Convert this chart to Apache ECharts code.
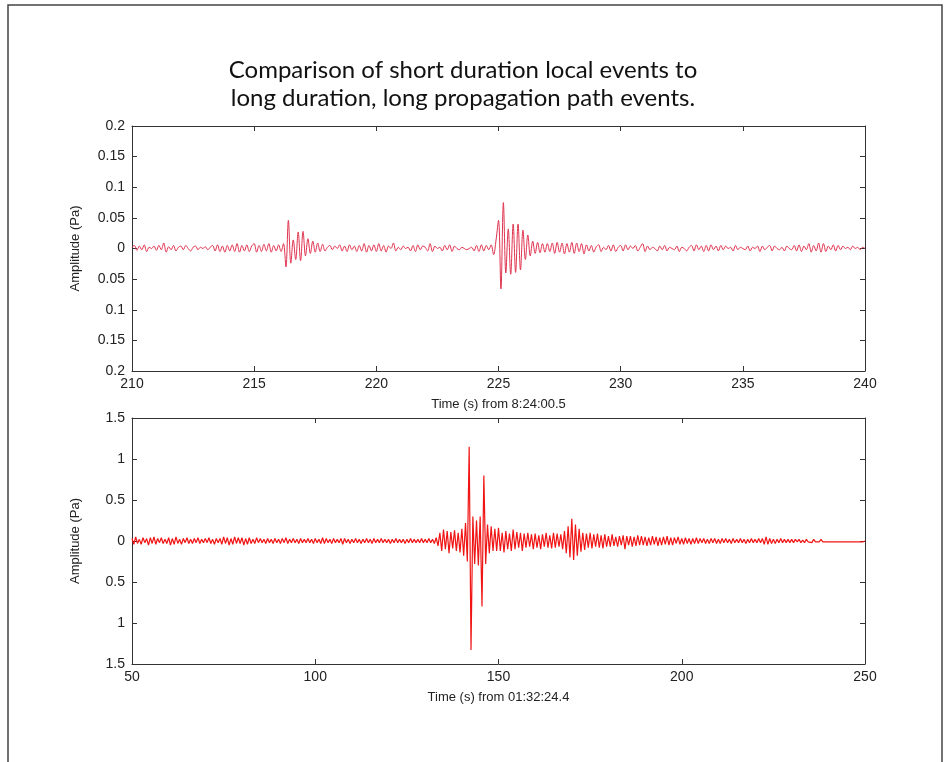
<!DOCTYPE html>
<html>
<head>
<meta charset="utf-8">
<script src="https://cdn.jsdelivr.net/npm/echarts@6/dist/echarts.min.js"></script>
<style>
  html, body { margin: 0; padding: 0; background: #fff; }
  #chart { width: 949px; height: 762px; }
</style>
</head>
<body>
<div id="chart"></div>
<script>
// top trace: 210 s .. 240 s, one sample every 0.1 s
var topStart = 210, topStep = 0.1;
var topValues = [
  0.002, 0.005, -0.003, 0.004, -0.002, 0.006, -0.005, 0.002, 0.000, 0.004,
  -0.003, 0.005, -0.002, 0.009, -0.006, 0.003, -0.002, 0.005, -0.004, 0.002,
  0.004, -0.002, 0.005, 0.000, -0.004, 0.002, 0.004, -0.002, 0.002, 0.000,
  0.003, -0.002, 0.002, 0.005, -0.004, 0.006, -0.005, 0.004, -0.006, 0.005,
  -0.004, 0.006, -0.005, 0.008, -0.006, 0.005, -0.004, 0.006, -0.005, 0.004,
  0.008, -0.006, 0.005, -0.005, 0.007, -0.004, 0.008, -0.006, 0.005, -0.004,
  0.006, -0.005, 0.008, -0.030, 0.046, -0.024, 0.014, -0.018, 0.027, -0.020,
  0.028, -0.012, 0.016, -0.008, 0.012, -0.006, 0.009, -0.005, 0.007, -0.004,
  0.002, 0.005, -0.002, 0.004, 0.000, 0.006, -0.004, 0.004, -0.005, 0.006,
  -0.002, 0.004, -0.005, 0.005, -0.004, 0.008, -0.006, 0.005, -0.004, 0.006,
  -0.005, 0.008, -0.004, 0.005, -0.006, 0.004, 0.000, 0.009, -0.004, 0.002,
  -0.002, 0.004, 0.000, 0.002, -0.004, 0.005, -0.005, 0.006, -0.002, 0.004,
  0.002, -0.004, 0.008, -0.005, 0.004, 0.000, 0.002, -0.004, 0.005, -0.002,
  0.006, -0.005, 0.004, 0.000, -0.002, 0.002, 0.000, -0.002, 0.000, 0.002,
  -0.004, 0.005, -0.005, 0.006, -0.004, 0.005, -0.002, 0.006, -0.010, 0.014,
  0.046, -0.066, 0.075, -0.040, 0.032, -0.042, 0.040, -0.039, 0.040, -0.035,
  0.030, -0.018, 0.022, -0.012, 0.012, -0.008, 0.010, -0.007, 0.008, -0.006,
  0.008, -0.005, 0.009, -0.008, 0.010, -0.006, 0.009, -0.009, 0.008, -0.006,
  0.010, -0.008, 0.009, -0.005, 0.008, -0.009, 0.006, -0.004, 0.005, -0.006,
  0.003, 0.006, -0.005, 0.002, -0.002, 0.005, -0.004, 0.006, -0.005, 0.002,
  0.005, -0.004, 0.006, -0.002, 0.004, 0.000, 0.005, -0.004, 0.002, 0.008,
  -0.005, 0.004, -0.002, 0.002, 0.000, -0.004, 0.004, -0.002, 0.005, -0.004,
  0.002, 0.000, -0.002, 0.004, -0.005, 0.002, 0.000, -0.004, 0.002, 0.005,
  -0.004, 0.006, -0.002, 0.004, -0.005, 0.005, -0.004, 0.006, -0.002, 0.004,
  -0.004, 0.005, -0.002, 0.004, 0.000, 0.002, -0.004, 0.005, -0.002, 0.002,
  0.000, -0.002, 0.004, -0.004, 0.002, 0.000, 0.004, -0.005, 0.004, -0.002,
  0.002, 0.005, -0.004, 0.004, 0.000, -0.002, 0.002, -0.004, 0.004, 0.000,
  -0.002, 0.005, -0.004, 0.006, -0.005, 0.004, -0.002, 0.008, -0.006, 0.005,
  -0.004, 0.009, -0.006, 0.008, -0.005, 0.004, -0.002, 0.006, -0.004, 0.005,
  -0.002, 0.004, 0.000, 0.002, -0.002, 0.004, 0.000, 0.002, -0.002, 0.002,
  0.000
];

// bottom trace: 50 s .. 250 s, one sample every 0.5 s
var botStart = 50, botStep = 0.5;
var botValues = [
  0.03, -0.04, 0.05, -0.03, 0.02, -0.04, 0.04, -0.02, 0.03, -0.05, 0.04, -0.03, 0.05, -0.04, 0.03, -0.02, 0.04, -0.03, 0.02, -0.03,
  0.04, -0.05, 0.03, -0.04, 0.05, -0.03, 0.02, -0.04, 0.03, -0.02, 0.04, -0.03, 0.02, -0.03, 0.03, -0.02, 0.04, -0.03, 0.02, -0.02,
  0.03, -0.02, 0.04, -0.03, 0.02, -0.04, 0.03, -0.02, 0.03, -0.04, 0.05, -0.03, 0.04, -0.05, 0.03, -0.04, 0.05, -0.03, 0.04, -0.03,
  0.04, -0.05, 0.03, -0.04, 0.04, -0.03, 0.02, -0.03, 0.04, -0.02, 0.03, -0.02, 0.02, -0.03, 0.03, -0.02, 0.02, -0.03, 0.03, -0.02,
  0.02, -0.03, 0.03, -0.02, 0.04, -0.03, 0.02, -0.02, 0.03, -0.02, 0.02, -0.03, 0.03, -0.02, 0.02, -0.02, 0.03, -0.02, 0.02, -0.03,
  0.03, -0.02, 0.02, -0.03, 0.04, -0.03, 0.03, -0.02, 0.02, -0.03, 0.03, -0.02, 0.02, -0.02, 0.03, -0.04, 0.03, -0.02, 0.02, -0.03,
  0.02, -0.02, 0.03, -0.02, 0.02, -0.03, 0.02, -0.02, 0.03, -0.02, 0.02, -0.03, 0.03, -0.02, 0.02, -0.02, 0.03, -0.02, 0.02, -0.02,
  0.02, -0.03, 0.02, -0.02, 0.03, -0.02, 0.02, -0.02, 0.02, -0.03, 0.02, -0.02, 0.03, -0.02, 0.02, -0.02, 0.02, -0.02, 0.03, -0.02,
  0.02, -0.02, 0.03, -0.02, 0.02, -0.03, 0.04, -0.06, 0.10, -0.12, 0.14, -0.10, 0.12, -0.15, 0.11, -0.09, 0.13, -0.12, 0.10, -0.14,
  0.15, -0.18, 0.22, -0.25, 1.15, -1.33, 0.30, -0.28, 0.25, -0.30, 0.30, -0.80, 0.80, -0.28, 0.20, -0.15, 0.18, -0.12, 0.15, -0.12,
  0.16, -0.12, 0.10, -0.14, 0.12, -0.10, 0.09, -0.12, 0.14, -0.10, 0.11, -0.08, 0.10, -0.12, 0.09, -0.08, 0.10, -0.07, 0.08, -0.10,
  0.09, -0.08, 0.07, -0.10, 0.08, -0.07, 0.10, -0.08, 0.07, -0.09, 0.10, -0.08, 0.09, -0.07, 0.08, -0.10, 0.12, -0.15, 0.18, -0.20,
  0.27, -0.23, 0.20, -0.18, 0.15, -0.13, 0.10, -0.11, 0.09, -0.08, 0.10, -0.09, 0.08, -0.07, 0.09, -0.08, 0.07, -0.09, 0.08, -0.07,
  0.06, -0.07, 0.08, -0.06, 0.05, -0.07, 0.06, -0.05, 0.07, -0.10, 0.06, -0.05, 0.06, -0.07, 0.05, -0.06, 0.07, -0.05, 0.06, -0.05,
  0.05, -0.06, 0.04, -0.05, 0.06, -0.04, 0.05, -0.06, 0.04, -0.05, 0.05, -0.04, 0.06, -0.05, 0.04, -0.05, 0.04, -0.03, 0.05, -0.04,
  0.03, -0.04, 0.04, -0.03, 0.03, -0.04, 0.03, -0.03, 0.04, -0.03, 0.03, -0.02, 0.03, -0.03, 0.02, -0.03, 0.03, -0.02, 0.03, -0.03,
  0.02, -0.03, 0.03, -0.02, 0.03, -0.02, 0.02, -0.03, 0.03, -0.02, 0.02, -0.02, 0.03, -0.02, 0.02, -0.03, 0.02, -0.02, 0.03, -0.02,
  0.02, -0.02, 0.03, -0.02, 0.03, -0.04, 0.05, -0.04, 0.03, -0.03, 0.02, -0.03, 0.02, -0.02, 0.03, -0.02, 0.02, -0.02, 0.02, -0.02,
  0.02, -0.02, 0.02, -0.01, 0.02, -0.02, 0.01, -0.02, 0.02, -0.01, 0.01, -0.02, 0.02, -0.01, 0.01, -0.01, 0.02, -0.01, 0.01, -0.01,
  0.01, -0.01, 0.01, -0.01, 0.01, -0.01, 0.01, -0.01, 0.01, -0.01, 0.01, -0.01, 0.01, -0.01, 0.01, -0.01, 0.01, -0.01, 0.01, -0.01,
  0.00
];

var titleLines = ['Comparison of short duration local events to', 'long duration, long propagation path events.'];
var topXName = 'Time (s) from 8:24:00.5';
var botXName = 'Time (s) from 01:32:24.4';
var yName = 'Amplitude (Pa)';

function pairs(start, step, vals) {
  return vals.map(function (v, i) { return [+(start + i * step).toFixed(2), v]; });
}

var font = 'Liberation Sans, Arial, sans-serif';
var axisCol = '#333';

// matlab drops the minus sign in these labels, keep it that way
function absLabel(v) { return String(Math.abs(+(+v).toFixed(2))); }

function xAxes(grid, min, max, interval, name) {
  return [{
    type: 'value', gridIndex: grid, min: min, max: max, interval: interval,
    name: name, nameLocation: 'middle', nameGap: 27,
    nameTextStyle: { fontFamily: font, fontSize: 13, color: '#222' },
    axisLine: { onZero: false, lineStyle: { color: axisCol, width: 1 } },
    axisTick: { inside: true, length: 5, lineStyle: { color: axisCol } },
    axisLabel: { fontFamily: font, fontSize: 14, color: '#222', margin: 6 },
    splitLine: { show: false }
  }, {
    type: 'value', gridIndex: grid, min: min, max: max, interval: interval, position: 'top',
    axisLine: { onZero: false, lineStyle: { color: axisCol, width: 1 } },
    axisTick: { inside: true, length: 5, lineStyle: { color: axisCol } },
    axisLabel: { show: false }, splitLine: { show: false }
  }];
}

function yAxes(grid, lim, interval) {
  return [{
    type: 'value', gridIndex: grid, min: -lim, max: lim, interval: interval,
    name: yName, nameLocation: 'middle', nameGap: 50,
    nameTextStyle: { fontFamily: font, fontSize: 13, color: '#222' },
    axisLine: { onZero: false, lineStyle: { color: axisCol, width: 1 } },
    axisTick: { inside: true, length: 5, lineStyle: { color: axisCol } },
    axisLabel: { fontFamily: font, fontSize: 14, color: '#222', margin: 7, formatter: absLabel },
    splitLine: { show: false }
  }, {
    type: 'value', gridIndex: grid, min: -lim, max: lim, interval: interval, position: 'right',
    axisLine: { onZero: false, lineStyle: { color: axisCol, width: 1 } },
    axisTick: { inside: true, length: 5, lineStyle: { color: axisCol } },
    axisLabel: { show: false }, splitLine: { show: false }
  }];
}

var chart = echarts.init(document.getElementById('chart'), null, { renderer: 'canvas' });

var option = {
  backgroundColor: '#fff',
  animation: false,
  graphic: [
    { type: 'rect', shape: { x: 8, y: 5, width: 934, height: 800 },
      style: { fill: 'none', stroke: '#444', lineWidth: 1.5 } },
    { type: 'text', x: 463, y: 70,
      style: { text: titleLines[0], fontFamily: 'Lato', fontSize: 24, fill: '#111', textAlign: 'center', textVerticalAlign: 'middle' } },
    { type: 'text', x: 463, y: 98,
      style: { text: titleLines[1], fontFamily: 'Lato', fontSize: 24, fill: '#111', textAlign: 'center', textVerticalAlign: 'middle' } }
  ],
  grid: [
    { left: 132, top: 126, width: 733, height: 245, containLabel: false, outerBoundsMode: 'none' },
    { left: 132, top: 418, width: 733, height: 246, containLabel: false, outerBoundsMode: 'none' }
  ],
  xAxis: xAxes(0, 210, 240, 5, topXName).concat(xAxes(1, 50, 250, 50, botXName)),
  yAxis: yAxes(0, 0.2, 0.05).concat(yAxes(1, 1.5, 0.5)),
  series: [
    { type: 'line', xAxisIndex: 0, yAxisIndex: 0, showSymbol: false, smooth: 0.35,
      lineStyle: { color: '#e0334f', width: 1 }, data: pairs(topStart, topStep, topValues) },
    { type: 'line', xAxisIndex: 2, yAxisIndex: 2, showSymbol: false,
      lineStyle: { color: '#f01414', width: 1.2 }, data: pairs(botStart, botStep, botValues) }
  ]
};
chart.setOption(option);
</script>
</body>
</html>
